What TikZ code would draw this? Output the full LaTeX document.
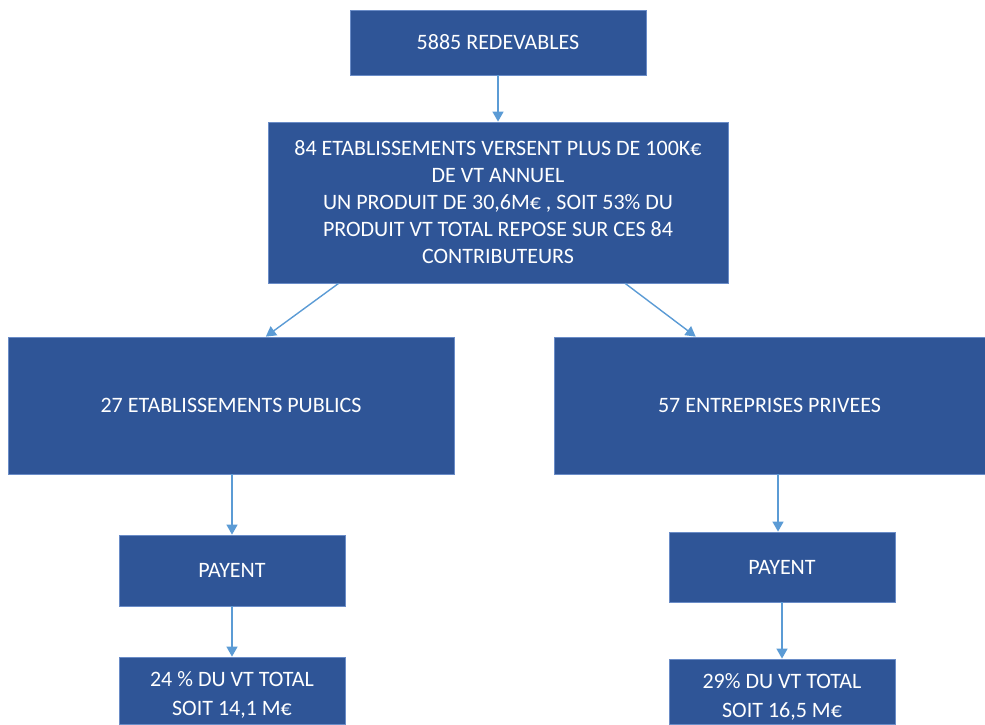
\documentclass[tikz,border=0pt]{standalone}
\usepackage{fontspec}
\setmainfont{Carlito}
\usetikzlibrary{arrows.meta,calc}
\definecolor{boxblue}{HTML}{2F5597}
\definecolor{boxedge}{HTML}{6A8CC7}
\definecolor{arrowblue}{HTML}{5B9BD5}
\begin{document}
\begin{tikzpicture}[x=1pt,y=-1pt,
  blk/.style={rectangle, fill=boxblue, draw=boxedge, line width=0.8pt, text=white,
    align=center, inner sep=0pt, font=\fontsize{22}{27}\selectfont},
  txt/.style={text=white, align=center, inner sep=0pt, font=\fontsize{22}{29}\selectfont},
  conn/.style={draw=arrowblue, line width=1.4pt, -{Triangle[width=11pt,length=10pt]}}]
\useasboundingbox (0,0) rectangle (985,724);
\node[blk, minimum width=296pt, minimum height=65pt] (top) at (498,42.5) {5885 REDEVABLES};
\node[blk, minimum width=460pt, minimum height=161pt] (mid) at (498,202.5)
  {84 ETABLISSEMENTS VERSENT PLUS DE 100K€\\DE VT ANNUEL\\UN PRODUIT DE 30,6M€ , SOIT 53\% DU\\PRODUIT VT TOTAL REPOSE SUR CES 84\\CONTRIBUTEURS};
\node[blk, minimum width=446pt, minimum height=137pt] (left) at (231,405.5) {27 ETABLISSEMENTS PUBLICS};
\node[blk, minimum width=431pt, minimum height=137pt] (right) at (769.5,405.5) {57 ENTREPRISES PRIVEES};
\node[blk, minimum width=226pt, minimum height=71pt] (lpay) at (232,570.5) {PAYENT};
\node[blk, minimum width=226pt, minimum height=70pt] (rpay) at (782,567) {PAYENT};
\node[blk, minimum width=226pt, minimum height=67pt] (lbot) at (232,690.5) {};
\node[blk, minimum width=226pt, minimum height=65pt] (rbot) at (782,691.5) {};
\node[txt] (lbottxt) at (232,695) {24 \% DU VT TOTAL\\SOIT 14,1 M€};
\node[txt] (rbottxt) at (782,697) {29\% DU VT TOTAL\\SOIT 16,5 M€};
\draw[conn] (top.south) -- (mid.north);
\draw[conn] ($(mid.south west)!0.154!(mid.south east)$) -- ($(left.north west)!0.578!(left.north east)$);
\draw[conn] ($(mid.south west)!0.776!(mid.south east)$) -- ($(right.north west)!0.329!(right.north east)$);
\draw[conn] (lpay.north |- left.south) -- (lpay.north);
\draw[conn] (lbot.north |- lpay.south) -- (lbot.north);
\draw[conn] ([xshift=-4pt]rpay.north |- right.south) -- ([xshift=-4pt]rpay.north);
\draw[conn] (rbot.north |- rpay.south) -- (rbot.north);
\end{tikzpicture}
\end{document}
